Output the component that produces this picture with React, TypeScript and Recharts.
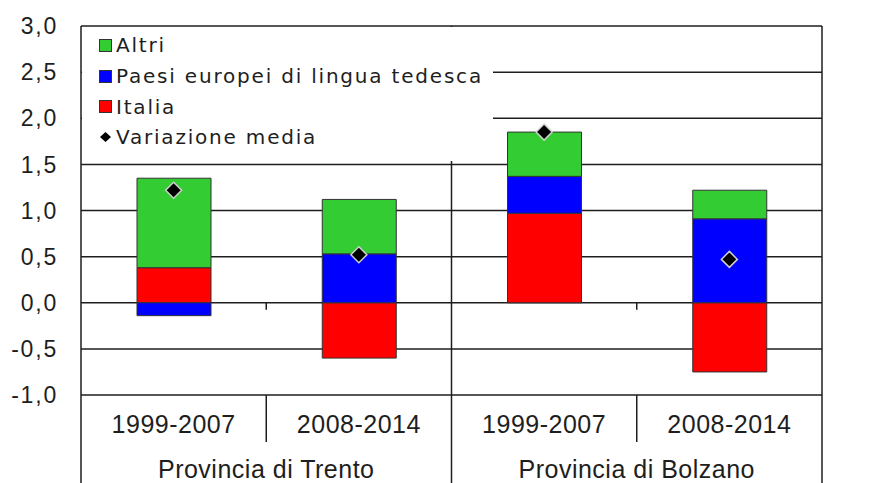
import {
  ComposedChart,
  Bar,
  Line,
  XAxis,
  YAxis,
  CartesianGrid,
  ReferenceLine,
  Legend,
} from "recharts";

const periods = ["1999-2007", "2008-2014", "1999-2007", "2008-2014"];
const provinces = [
  "Provincia di Trento",
  "Provincia di Trento",
  "Provincia di Bolzano",
  "Provincia di Bolzano",
];

const italia = [0.38, -0.6, 0.97, -0.75];
const paesiTedeschi = [-0.14, 0.53, 0.4, 0.91];
const altri = [0.97, 0.59, 0.48, 0.31];
const variazioneMedia = [1.22, 0.52, 1.85, 0.47];

const yTicks = [-1, -0.5, 0, 0.5, 1, 1.5, 2, 2.5, 3];

const GREEN = "#33cc33";
const BLUE = "#0000ff";
const RED = "#ff0000";
const INK = "#1e1e1e";
const FONT = "'Liberation Sans', Arial, sans-serif";
const LEGEND_FONT = "'DejaVu Sans', Verdana, sans-serif";

const legendItems = [
  { name: "Altri", color: GREEN, kind: "square" },
  { name: "Paesi europei di lingua tedesca", color: BLUE, kind: "square" },
  { name: "Italia", color: RED, kind: "square" },
  { name: "Variazione media", color: "#000", kind: "diamond" },
];

const data = periods.map((period, i) => ({
  key: `${provinces[i]}|${period}`,
  period,
  province: provinces[i],
  italia: italia[i],
  paesi: paesiTedeschi[i],
  altri: altri[i],
  media: variazioneMedia[i],
}));

const fmt = (v: number) => v.toFixed(1).replace(".", ",");

const PeriodTick = (props: any) => {
  const { x, y, payload, index, width, visibleTicksCount } = props;
  const half =
    Number.isFinite(width) && visibleTicksCount
      ? width / visibleTicksCount / 2
      : payload.offset;
  const row = data[index];
  return (
    <g>
      <text
        x={x}
        y={y + 38}
        textAnchor="middle"
        fontSize={25}
        letterSpacing={0.5}
        fontFamily={FONT}
        fill={INK}
      >
        {row.period}
      </text>
      {index % 2 === 1 && (
        <>
          <line x1={x - half} x2={x - half} y1={y} y2={y + 47} stroke={INK} strokeWidth={1.5} />
          <text
            x={x - half}
            y={y + 83}
            textAnchor="middle"
            fontSize={25}
            letterSpacing={0.5}
            fontFamily={FONT}
            fill={INK}
          >
            {row.province}
          </text>
        </>
      )}
      {(index === 0 || index === 2) && (
        <line x1={x - half} x2={x - half} y1={y} y2={y + 90} stroke={INK} strokeWidth={1.5} />
      )}
      {index === 3 && (
        <line x1={x + half} x2={x + half} y1={y} y2={y + 90} stroke={INK} strokeWidth={1.5} />
      )}
    </g>
  );
};

// small ticks hanging from the zero line at the period boundaries
const ZeroTicks = (props: any) => {
  const { x1, x2, y1 } = props;
  const w = (x2 - x1) / 4;
  return (
    <g>
      {[1, 3].map((k) => (
        <line key={k} x1={x1 + w * k} x2={x1 + w * k} y1={y1} y2={y1 + 7} stroke={INK} strokeWidth={1.5} />
      ))}
    </g>
  );
};

const Diamond = (props: any) => {
  const { cx, cy, index } = props;
  if (cx == null || cy == null) return <g key={index} />;
  const r = 8;
  return (
    <path
      key={index}
      d={`M${cx},${cy - r}L${cx + r},${cy}L${cx},${cy + r}L${cx - r},${cy}Z`}
      fill="#000"
      stroke="#d0d0d0"
      strokeWidth={1.5}
    />
  );
};

const LegendBox = () => (
  <div style={{ paddingTop: 3, fontFamily: LEGEND_FONT }}>
    {legendItems.map((it) => (
      <div
        key={it.name}
        style={{ height: 30.7, display: "flex", alignItems: "center", paddingLeft: 17 }}
      >
        {it.kind === "square" ? (
          <div
            style={{
              width: 11,
              height: 11,
              background: it.color,
              border: "1px solid #333",
            }}
          />
        ) : (
          <svg width={13} height={14}>
            <path d="M6.5,2L12,7L6.5,12L1,7Z" fill="#000" />
          </svg>
        )}
        <span
          style={{
            marginLeft: 4,
            fontSize: 20,
            letterSpacing: 1.8,
            color: INK,
            whiteSpace: "nowrap",
          }}
        >
          {it.name}
        </span>
      </div>
    ))}
  </div>
);

export default function App() {
  return (
    <div style={{ position: "absolute", left: 0, top: 0, background: "#fff" }}>
      <ComposedChart
        width={890}
        height={483}
        data={data}
        stackOffset="sign"
        margin={{ top: 26, right: 0, bottom: 0, left: 0 }}
      >
        <CartesianGrid yAxisId="left" vertical={false} stroke={INK} strokeWidth={1.5} />
        <XAxis
          dataKey="key"
          interval={0}
          height={88}
          axisLine={false}
          tickLine={false}
          tickSize={0}
          tickMargin={0}
          tick={<PeriodTick />}
        />
        <YAxis
          yAxisId="left"
          width={81}
          domain={[-1, 3]}
          ticks={yTicks}
          tickFormatter={fmt}
          axisLine={{ stroke: INK, strokeWidth: 1.5 }}
          tickLine={false}
          tickMargin={23}
          tickSize={0}
          tick={{ fontSize: 23, letterSpacing: 1.8, fill: INK, fontFamily: FONT }}
        />
        <YAxis
          yAxisId="right"
          orientation="right"
          width={68}
          domain={[-1, 3]}
          ticks={yTicks}
          tickFormatter={fmt}
          axisLine={{ stroke: INK, strokeWidth: 1.5 }}
          tickLine={false}
          tickMargin={21}
          tickSize={0}
          tick={{ fontSize: 23, letterSpacing: 1.8, fill: INK, fontFamily: FONT }}
        />
        <ReferenceLine
          yAxisId="left"
          x={data[2].key}
          position="start"
          stroke={INK}
          strokeWidth={1.5}
        />
        <ReferenceLine yAxisId="left" y={0} stroke={INK} strokeWidth={1.5} shape={<ZeroTicks />} />
        <Bar yAxisId="left" dataKey="italia" name="Italia" stackId="a" fill={RED} stroke="#333" strokeWidth={1} barSize={74} isAnimationActive={false} />
        <Bar yAxisId="left" dataKey="paesi" name="Paesi europei di lingua tedesca" stackId="a" fill={BLUE} stroke="#333" strokeWidth={1} barSize={74} isAnimationActive={false} />
        <Bar yAxisId="left" dataKey="altri" name="Altri" stackId="a" fill={GREEN} stroke="#333" strokeWidth={1} barSize={74} isAnimationActive={false} />
        <Line
          yAxisId="left"
          dataKey="media"
          name="Variazione media"
          stroke="none"
          dot={Diamond}
          activeDot={false}
          isAnimationActive={false}
        />
        <Legend
          layout="vertical"
          align="center"
          verticalAlign="middle"
          wrapperStyle={{ left: 82, top: 27, width: 411, height: 134, background: "#fff" }}
          content={<LegendBox />}
        />
      </ComposedChart>
    </div>
  );
}
